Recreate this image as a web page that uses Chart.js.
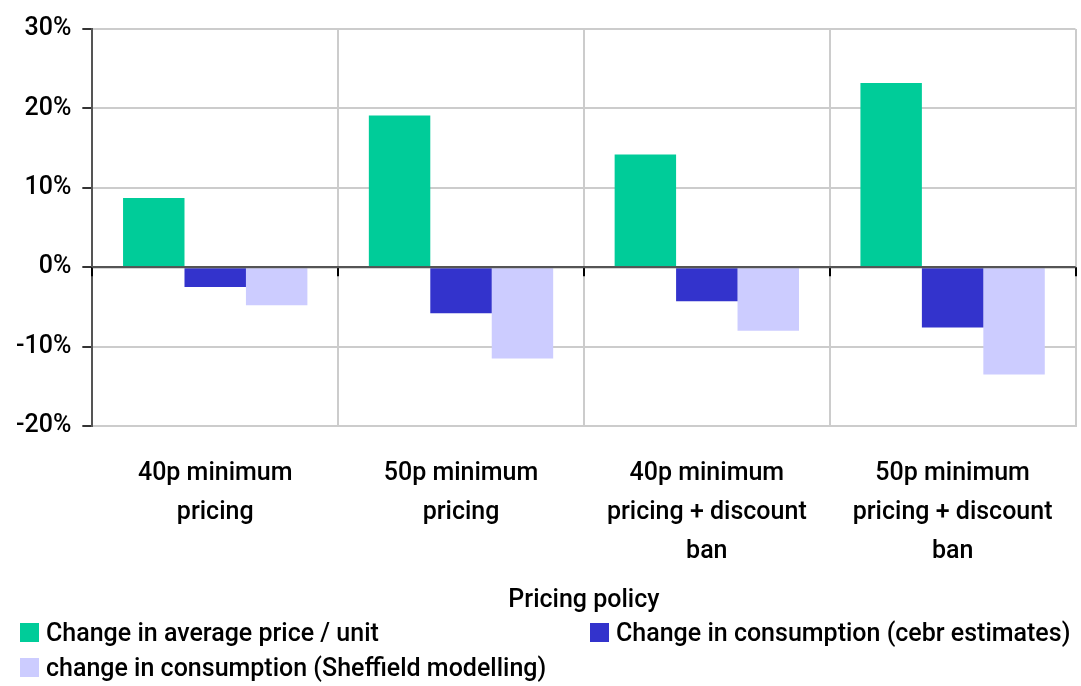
<!DOCTYPE html>
<html>
<head>
<meta charset="utf-8">
<script src="https://cdn.jsdelivr.net/npm/chart.js@4/dist/chart.umd.min.js"></script>
<style>
    html, body { margin: 0; padding: 0; background: #fff; }
    #wrap { position: relative; width: 1081px; height: 686px; }
    #legend {
        position: absolute; left: 20px; top: 617px; width: 1061px;
        display: grid; grid-template-columns: 570px 480px; row-gap: 5px;
        font-family: 'Liberation Sans Narrow', 'Arial Narrow', Roboto, sans-serif;
        font-size: 25px; font-weight: 500; color: #000;
    }
    .item { display: flex; align-items: center; white-space: nowrap; height: 30px; }
    .box { width: 19px; height: 19px; margin-right: 7px; flex: none; }
</style>
</head>
<body>
<div id="wrap">
    <canvas id="policyChart" width="1081" height="686"></canvas>
    <div id="legend"></div>
</div>
<script>
const FONT = "'Liberation Sans Narrow', 'Arial Narrow', Roboto, sans-serif";

const policies = [
    ['40p minimum', 'pricing'],
    ['50p minimum', 'pricing'],
    ['40p minimum', 'pricing + discount', 'ban'],
    ['50p minimum', 'pricing + discount', 'ban']
];
const seriesNames = [
    'Change in average price / unit',
    'Change in consumption (cebr estimates)',
    'change in consumption (Sheffield modelling)'
];
const priceChange = [8.7, 19.1, 14.2, 23.2];
const cebrChange = [-2.5, -5.8, -4.3, -7.6];
const sheffieldChange = [-4.8, -11.5, -8.0, -13.5];
const seriesColors = ['#00CC99', '#3333CC', '#CCCCFF'];
const yTicks = [-20, -10, 0, 10, 20, 30];

// short tick marks hanging under the zero line at each category boundary
const zeroTicks = {
    id: 'zeroTicks',
    afterDatasetsDraw(chart) {
        const x = chart.scales.x, y = chart.scales.y;
        const y0 = y.getPixelForValue(0);
        const half = (x.getPixelForValue(1) - x.getPixelForValue(0)) / 2;
        const ctx = chart.ctx;
        ctx.save();
        ctx.strokeStyle = '#000';
        ctx.lineWidth = 2;
        for (let i = 0; i <= policies.length; i++) {
            const px = Math.round(x.getPixelForValue(i) - half);
            ctx.beginPath();
            ctx.moveTo(px, y0);
            ctx.lineTo(px, y0 + 9);
            ctx.stroke();
        }
        // zero line drawn over the bars
        ctx.strokeStyle = '#555';
        ctx.beginPath();
        ctx.moveTo(chart.chartArea.left, y0);
        ctx.lineTo(chart.chartArea.right, y0);
        ctx.stroke();
        ctx.restore();
    }
};

const datasets = [priceChange, cebrChange, sheffieldChange].map((vals, i) => ({
    label: seriesNames[i],
    data: vals,
    backgroundColor: seriesColors[i],
    borderWidth: 0,
    categoryPercentage: 0.75,
    barPercentage: 1.0
}));

const textFont = { family: FONT, size: 25, weight: 500 };

const chart = new Chart(document.getElementById('policyChart'), {
    type: 'bar',
    data: { labels: policies, datasets: datasets },
    options: {
        responsive: false,
        animation: false,
        layout: { padding: { top: 29, right: 4, left: 5, bottom: 70 } },
        plugins: {
            legend: { display: false },
            tooltip: { enabled: false }
        },
        scales: {
            x: {
                grid: { offset: true, color: '#CCCCCC', lineWidth: 2, drawTicks: false },
                border: { color: '#CCCCCC', width: 2 },
                ticks: {
                    color: '#000',
                    padding: 28,
                    maxRotation: 0,
                    font: { ...textFont, lineHeight: 1.56 }
                },
                title: {
                    display: true,
                    text: 'Pricing policy',
                    color: '#000',
                    padding: { top: -13, bottom: 0 },
                    font: textFont
                }
            },
            y: {
                min: yTicks[0],
                max: yTicks[yTicks.length - 1],
                afterBuildTicks: axis => { axis.ticks = yTicks.map(v => ({ value: v })); },
                grid: {
                    color: ctx => ctx.tick && ctx.tick.value === 0 ? '#555555' : '#CCCCCC',
                    lineWidth: 2,
                    tickColor: '#333',
                    tickLength: 10
                },
                border: { color: '#555', width: 2 },
                ticks: {
                    color: '#000',
                    padding: 11,
                    callback: v => v + '%',
                    font: textFont
                }
            }
        }
    },
    plugins: [zeroTicks]
});

// two-column legend under the axis title
const legend = document.getElementById('legend');
seriesNames.forEach((name, i) => {
    const item = document.createElement('div');
    item.className = 'item';
    const box = document.createElement('span');
    box.className = 'box';
    box.style.background = seriesColors[i];
    item.appendChild(box);
    item.appendChild(document.createTextNode(name));
    legend.appendChild(item);
});
</script>
</body>
</html>
